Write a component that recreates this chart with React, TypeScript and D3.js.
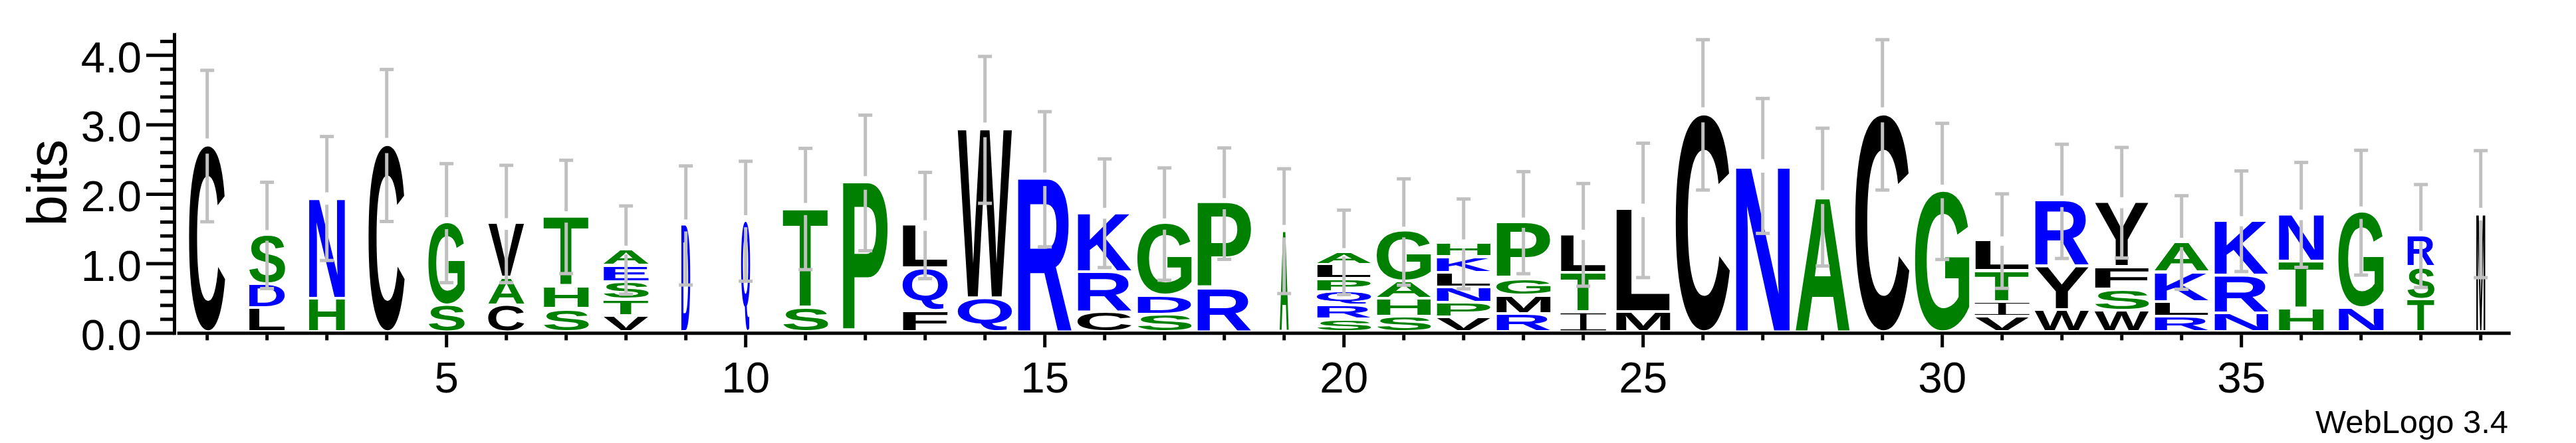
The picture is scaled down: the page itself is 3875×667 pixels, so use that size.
import React, { useEffect, useState } from "react";
import * as d3 from "d3";

const WIDTH = 3875;
const HEIGHT = 667;

// ---------- data ----------
const positions = d3.range(1, 40);
const totalSequences = 6;
// number of non-gap symbols per column (controls stack width)
const seqCount = [4, 4, 4, 4, 4, 4, 5, 5, 1, 1, 5, 5, 5, 6, 6, 6, 6, 6, 1, 6, 6, 6, 6, 5, 6, 6, 6, 6, 6, 6, 6, 6, 6, 6, 6, 5, 5, 3, 1];
// letters of each stack, bottom to top
const stackLetters = [
  "C", "LDS", "HN", "C", "SG", "CAV", "SHT", "VTSEA", "D", "Q",
  "ST", "P", "FQL", "QW", "R", "CRK", "SDG", "RP", "A", "SRQPLA",
  "SHAG", "VPNLKH", "RMGP", "ITL", "ML", "C", "N", "A", "C", "G",
  "VITL", "WYR", "WSFY", "RLKA", "NRK", "HTN", "NG", "TSR", "M",
];
// bits of each letter, bottom to top
const stackBits = [
  [2.694], [0.347, 0.347, 0.714], [0.482, 1.457], [2.702], [0.388, 1.196],
  [0.388, 0.396, 0.788], [0.335, 0.331, 1.008], [0.237, 0.233, 0.253, 0.237, 0.237], [1.551], [1.612],
  [0.359, 1.429], [2.163], [0.306, 0.62, 0.624], [0.49, 2.437], [2.216],
  [0.286, 0.58, 0.861], [0.257, 0.269, 1.045], [0.624, 1.241], [1.469], [0.184, 0.204, 0.192, 0.184, 0.208, 0.192],
  [0.224, 0.257, 0.245, 0.731], [0.212, 0.208, 0.22, 0.212, 0.229, 0.204], [0.265, 0.265, 0.245, 0.816], [0.286, 0.571, 0.559], [0.286, 1.482],
  [3.143], [2.408], [1.959], [3.143], [2.041],
  [0.224, 0.212, 0.449, 0.441], [0.318, 0.633, 0.947], [0.306, 0.306, 0.327, 0.939], [0.224, 0.212, 0.429, 0.441], [0.273, 0.543, 0.796],
  [0.339, 0.682, 0.682], [0.347, 1.388], [0.469, 0.469, 0.461], [1.714],
];
// half-length of the error bar of each stack, in bits
const errorHalf = [
  1.09, 0.765, 0.892, 1.094, 0.857, 0.845, 0.816, 0.635, 0.857, 0.863,
  0.873, 0.976, 0.765, 1.057, 0.973, 0.782, 0.808, 0.802, 0.898, 0.608,
  0.765, 0.647, 0.735, 0.739, 0.967, 1.082, 0.971, 0.992, 1.082, 0.98,
  0.68, 0.822, 0.796, 0.673, 0.724, 0.755, 0.898, 0.741, 0.914,
];
const yMajorTicks = [0, 1, 2, 3, 4];
const yMinorTicks = d3.range(0, 4.21, 0.2).filter((v) => Math.abs(v - Math.round(v)) > 1e-6);
const xLabelTicks = [5, 10, 15, 20, 25, 30, 35];
const yLabel = "bits";
const footer = "WebLogo 3.4";

// ---------- style ----------
const GREEN = "#008000";
const BLUE = "#0000ff";
const BLACK = "#000000";
const ERR = "#c0c0c0";
const colorOf: Record<string, string> = {};
"SHGATP".split("").forEach((c) => (colorOf[c] = GREEN));
"DNEQRK".split("").forEach((c) => (colorOf[c] = BLUE));
"CLVWFYMI".split("").forEach((c) => (colorOf[c] = BLACK));

const FONT = "'Liberation Sans', Arial, Helvetica, sans-serif";

const x0 = 266.7;
const step = 90;
const fullStackWidth = 82;
const yZero = 501.7;
const pxPerBit = 104.6;
const maxBits = Math.log2(20);
const letterGap = 4.3;
const SW = 5;

const xScale = d3.scaleLinear().domain([0.5, 39.5]).range([x0, x0 + 39 * step]);
const yScale = d3.scaleLinear().domain([0, maxBits]).range([yZero, yZero - maxBits * pxPerBit]);

type M = { l: number; r: number; a: number; d: number };

function measureGlyphs(): Record<string, M> {
  const canvas = document.createElement("canvas");
  const ctx = canvas.getContext("2d")!;
  ctx.font = `bold 100px "Liberation Sans"`;
  const out: Record<string, M> = {};
  "ACDEFGHIKLMNPQRSTVWY".split("").forEach((ch) => {
    const t = ctx.measureText(ch);
    out[ch] = {
      l: t.actualBoundingBoxLeft,
      r: t.actualBoundingBoxRight,
      a: t.actualBoundingBoxAscent,
      d: t.actualBoundingBoxDescent,
    };
  });
  return out;
}

function Glyph({ ch, x, y, w, h, m }: { ch: string; x: number; y: number; w: number; h: number; m: M }) {
  const color = colorOf[ch] || BLACK;
  if (ch === "I") {
    const bar = Math.max(1, h * 0.06);
    const stem = Math.max(1.5, w * 0.14);
    return (
      <g fill={color}>
        <rect x={x} y={y} width={w} height={bar} />
        <rect x={x} y={y + h - bar} width={w} height={bar} />
        <rect x={x + w / 2 - stem / 2} y={y} width={stem} height={h} />
      </g>
    );
  }
  const iw = m.l + m.r;
  const ih = m.a + m.d;
  return (
    <g transform={`translate(${x},${y}) scale(${w / iw},${h / ih})`}>
      <text x={m.l} y={m.a} fill={color} fontFamily={FONT} fontWeight="bold" fontSize={100}>
        {ch}
      </text>
    </g>
  );
}

export default function App() {
  const [metrics, setMetrics] = useState<Record<string, M> | null>(null);

  useEffect(() => {
    let done = false;
    const go = () => {
      if (!done) {
        done = true;
        setMetrics(measureGlyphs());
      }
    };
    try {
      (document as any).fonts.load(`bold 100px "Liberation Sans"`).then(go, go);
    } catch (e) {
      go();
    }
    const t = setTimeout(go, 300);
    return () => clearTimeout(t);
  }, []);

  const stacks = positions.map((p, i) => {
    const cx = xScale(p);
    const w = (fullStackWidth * seqCount[i]) / totalSequences;
    const letters = stackLetters[i].split("");
    let cum = 0;
    const items = letters.map((ch, j) => {
      const b0 = cum;
      const b1 = cum + stackBits[i][j];
      cum = b1;
      return { ch, yBottom: yScale(b0) - letterGap, yTop: yScale(b1) };
    });
    return { p, cx, w, items, total: cum, err: errorHalf[i] };
  });

  return (
    <svg
      width={WIDTH}
      height={HEIGHT}
      style={{ position: "absolute", left: 0, top: 0, background: "#fff" }}
      xmlns="http://www.w3.org/2000/svg"
    >
      <rect x={0} y={0} width={WIDTH} height={HEIGHT} fill="#fff" />

      {/* letters */}
      {metrics &&
        stacks.map((s) => (
          <g key={`s${s.p}`}>
            {s.items.map((it, j) => {
              const h = it.yBottom - it.yTop;
              if (h <= 0.3) return null;
              return (
                <Glyph
                  key={j}
                  ch={it.ch}
                  x={s.cx - s.w / 2}
                  y={it.yTop}
                  w={s.w}
                  h={h}
                  m={metrics[it.ch]}
                />
              );
            })}
          </g>
        ))}

      {/* error bars */}
      {stacks.map((s) => {
        const top = s.total;
        const e = s.err;
        const gap = 0.1 * e;
        return (
          <g key={`e${s.p}`} stroke={ERR} strokeWidth={SW} fill="none">
            <line x1={s.cx} x2={s.cx} y1={yScale(top + e)} y2={yScale(top + gap)} />
            <line x1={s.cx} x2={s.cx} y1={yScale(top - gap)} y2={yScale(top - e)} />
            <line x1={s.cx - 10.5} x2={s.cx + 10.5} y1={yScale(top + e)} y2={yScale(top + e)} />
            <line x1={s.cx - 10.5} x2={s.cx + 10.5} y1={yScale(top - e)} y2={yScale(top - e)} />
          </g>
        );
      })}

      {/* y axis */}
      <g stroke={BLACK} strokeWidth={SW}>
        <line x1={262.5} x2={262.5} y1={yScale(maxBits)} y2={yZero + 2.5} />
        {yMajorTicks.map((v) => (
          <line key={`ym${v}`} x1={220} x2={262.5} y1={yScale(v)} y2={yScale(v)} />
        ))}
        {yMinorTicks.map((v) => (
          <line key={`yn${v}`} x1={241} x2={262.5} y1={yScale(v)} y2={yScale(v)} />
        ))}
      </g>
      {yMajorTicks.map((v) => (
        <text
          key={`yl${v}`}
          x={213}
          y={yScale(v) + 25.5}
          textAnchor="end"
          fontFamily={FONT}
          fontSize={65.6}
          fill={BLACK}
        >
          {d3.format(".1f")(v)}
        </text>
      ))}
      <text
        transform={`translate(100,275.4) rotate(-90)`}
        textAnchor="middle"
        fontFamily={FONT}
        fontSize={84}
        fill={BLACK}
      >
        {yLabel}
      </text>

      {/* x axis */}
      <g stroke={BLACK} strokeWidth={SW}>
        <line x1={x0} x2={x0 + 39 * step} y1={yZero} y2={yZero} />
        {positions.map((p) => (
          <line
            key={`xt${p}`}
            x1={xScale(p)}
            x2={xScale(p)}
            y1={yZero + 2.5}
            y2={p % 5 === 0 ? 523 : 512.4}
          />
        ))}
      </g>
      {xLabelTicks.map((p) => (
        <text
          key={`xl${p}`}
          x={xScale(p)}
          y={591.4}
          textAnchor="middle"
          fontFamily={FONT}
          fontSize={65.6}
          fill={BLACK}
        >
          {p}
        </text>
      ))}
      <text
        x={3773}
        y={652}
        textAnchor="end"
        fontFamily={FONT}
        fontSize={48.9}
        fill={BLACK}
      >
        {footer}
      </text>
    </svg>
  );
}
